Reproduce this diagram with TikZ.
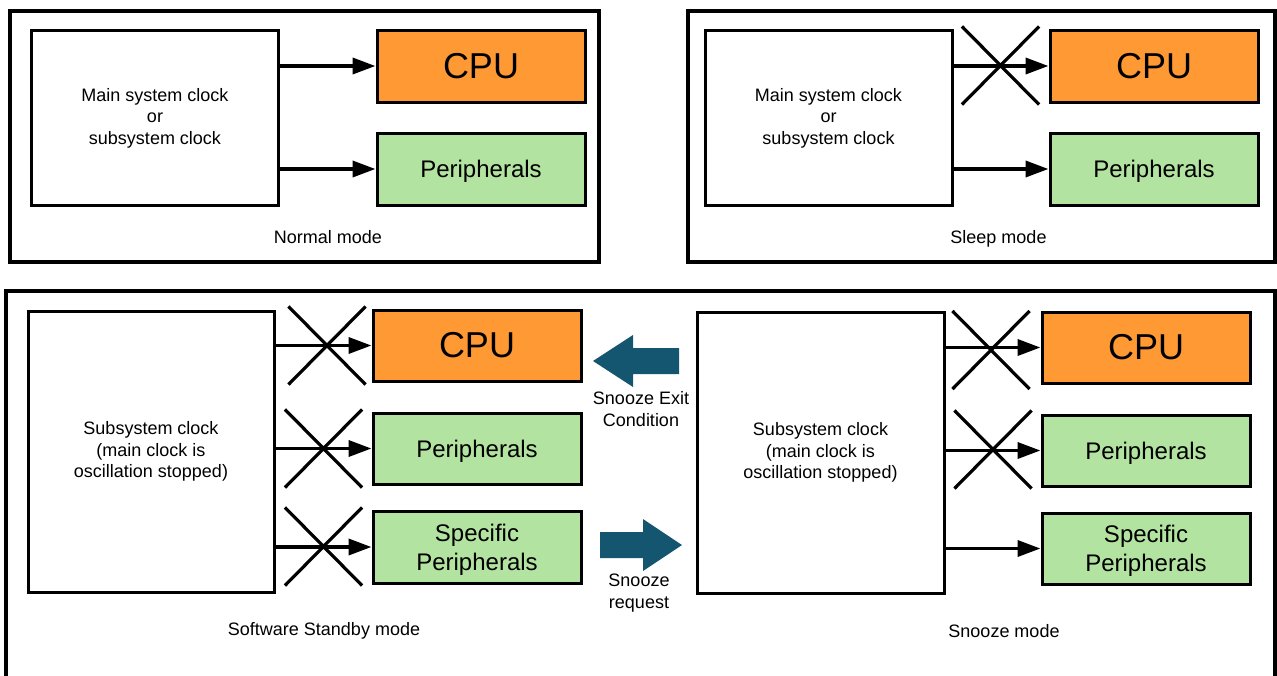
\documentclass[tikz,border=0pt]{standalone}
\usepackage{fontspec}
\setmainfont{Liberation Sans}
\usetikzlibrary{arrows.meta,shapes.misc}

\definecolor{cpuorange}{RGB}{255,153,51}
\definecolor{pergreen}{RGB}{179,227,160}
\definecolor{snoozeblue}{RGB}{20,86,112}

\begin{document}
\begin{tikzpicture}[x=1pt,y=-1pt,
  modeframe/.style={line width=4pt},
  clockbox/.style={draw, line width=3pt, fill=white, align=center, inner sep=0pt,
    font=\fontsize{18}{21.6}\selectfont},
  cpubox/.style={draw, line width=3pt, fill=cpuorange, inner sep=0pt,
    minimum width=208pt, minimum height=72pt, font=\fontsize{36}{40}\selectfont},
  perbox/.style={draw, line width=3pt, fill=pergreen, inner sep=0pt, align=center,
    text depth=0pt, minimum width=208pt, minimum height=72pt,
    font=\fontsize{24}{29}\selectfont},
  feed/.style={line width=3.6pt, -{Triangle[length=23pt,width=16pt]}},
  stopmark/.style={cross out, draw, line width=3.2pt, inner sep=0pt,
    minimum width=74pt, minimum height=75pt},
  caption/.style={font=\fontsize{18}{21.6}\selectfont, align=center, inner sep=0pt},
  bigarrow/.style={fill=snoozeblue}
]
\useasboundingbox (0,0) rectangle (1277,675);

% ---- Normal mode ----
\draw[modeframe] (9.5,11) rectangle (598.5,262);
\node[clockbox, minimum width=247pt, minimum height=175pt] (clkN) at (155,118)
  {Main system clock\\or\\subsystem clock};
\node[cpubox] (cpuN) at (481,66) {CPU};
\node[perbox] (perN) at (481,169) {Peripherals};
\draw[feed] (clkN.east |- cpuN.west) -- (cpuN.west);
\draw[feed] (clkN.east |- perN.west) -- (perN.west);
\node[caption] (capN) at (328,237) {Normal mode};

% ---- Sleep mode ----
\draw[modeframe] (687.5,11) rectangle (1275,262);
\node[clockbox, minimum width=247pt, minimum height=175pt] (clkS) at (828.5,118)
  {Main system clock\\or\\subsystem clock};
\node[cpubox] (cpuS) at (1154,66) {CPU};
\node[perbox] (perS) at (1154,169) {Peripherals};
\draw[feed] (clkS.east |- cpuS.west) -- (cpuS.west);
\draw[feed] (clkS.east |- perS.west) -- (perS.west);
\node[stopmark] (xS1) at (1000.5,65.5) {};
\node[caption] (capS) at (998.5,239) {Sleep mode};

% ---- Software Standby / Snooze ----
\draw[modeframe] (6,700) -- (6,290.5) -- (1275,290.5) -- (1275,700);

% Software Standby mode
\node[clockbox, minimum width=246pt, minimum height=281pt] (clkW) at (151,451.5)
  {Subsystem clock\\(main clock is\\oscillation stopped)};
\node[cpubox, minimum height=71pt] (cpuW) at (477,345.5) {CPU};
\node[perbox, minimum height=71pt] (perW) at (477,448.5) {Peripherals};
\node[perbox] (speW) at (477,547) {Specific\\Peripherals};
\draw[feed] (clkW.east |- cpuW.west) -- (cpuW.west);
\draw[feed] (clkW.east |- perW.west) -- (perW.west);
\draw[feed] (clkW.east |- speW.west) -- (speW.west);
\node[stopmark] (xW1) at (327,345.5) {};
\node[stopmark] (xW2) at (323.5,448.5) {};
\node[stopmark] (xW3) at (323.5,546.5) {};
\node[caption] (capW) at (324,631) {Software Standby mode};

% Snooze mode
\node[clockbox, minimum width=247pt, minimum height=281pt] (clkZ) at (820.5,452.5)
  {Subsystem clock\\(main clock is\\oscillation stopped)};
\node[cpubox, minimum height=71pt] (cpuZ) at (1146,347.5) {CPU};
\node[perbox, minimum height=71pt] (perZ) at (1146,450.5) {Peripherals};
\node[perbox, minimum height=71pt] (speZ) at (1146,548.5) {Specific\\Peripherals};
\draw[feed] (clkZ.east |- cpuZ.west) -- (cpuZ.west);
\draw[feed] (clkZ.east |- perZ.west) -- (perZ.west);
\draw[feed] (clkZ.east |- speZ.west) -- (speZ.west);
\node[stopmark] (xZ1) at (991,350) {};
\node[stopmark] (xZ2) at (993,449.5) {};
\node[caption] (capZ) at (1004,631) {Snooze mode};

% Transitions between the two low-power modes
\fill[bigarrow] (593,361) -- (633,335) -- (633,348) -- (679,348)
  -- (679,374) -- (633,374) -- (633,387) -- cycle;
\node[caption] (exitlbl) at (641,409) {Snooze Exit\\Condition};
\fill[bigarrow] (600,532) -- (643,532) -- (643,519) -- (682,545)
  -- (643,571) -- (643,558) -- (600,558) -- cycle;
\node[caption] (reqlbl) at (639,593) {Snooze\\request};
\end{tikzpicture}
\end{document}
